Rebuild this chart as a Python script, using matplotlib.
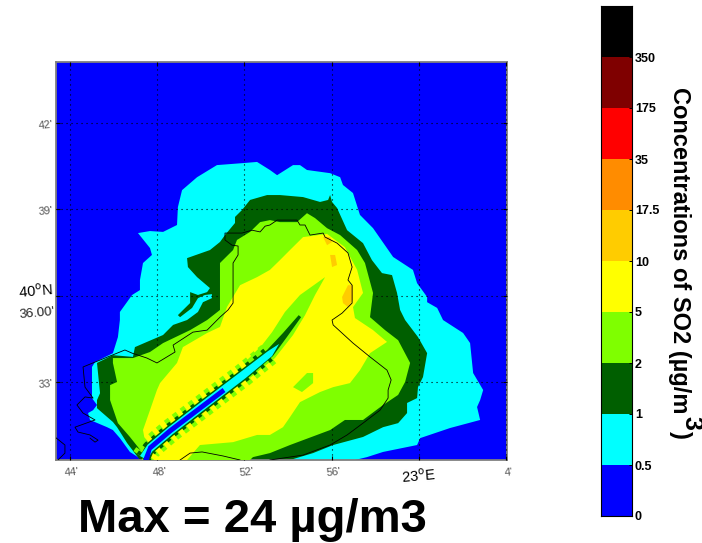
import numpy as np
import matplotlib
matplotlib.use("Agg")
import matplotlib.pyplot as plt

plt.rcParams['font.family'] = ['Liberation Sans', 'DejaVu Sans']

# colour scale
cbar_labels = ['0', '0.5', '1', '2', '5', '10', '17.5', '35', '175', '350']
cbar_colors = ['#0000ff', '#00ffff', '#005f00', '#7fff00', '#ffff00',
               '#ffcc00', '#ff8c00', '#ff0000', '#7f0000', '#000000']

# map graticule (minutes of lon past 22 deg, minutes of lat past 40 deg)
lon_ticks = [44, 48, 52, 56, 60, 64]
lon_labels = ["44'", "48'", "52'", "56'", "23$^{\\mathrm{o}}$E", "4'"]
lat_ticks = [33, 36, 39, 42]
lat_labels = ["33'", "40$^{\\mathrm{o}}$N", "39'", "42'"]

edge_05 = [(47.53,30.29),(47.12,30.39),(46.75,30.57),(46.29,31.05),(45.97,31.33),(45.70,31.43),
    (44.92,31.68),(44.83,31.92),(45.06,32.02),(45.24,32.20),(45.01,32.44),(45.01,33.52),
    (45.15,33.69),(45.97,34.00),(46.20,34.56),(46.29,35.15),(46.29,35.43),(46.85,36.02),
    (47.21,36.19),(47.21,36.54),(47.35,37.13),(47.76,37.41),(47.67,37.65),(47.12,38.17),
    (47.67,38.24),(48.27,38.21),(48.91,38.45),(48.95,39.07),(49.14,39.66),(49.83,40.11),
    (50.74,40.53),(51.94,40.60),(52.58,40.64),(53.17,40.36),(53.50,40.18),(54.23,40.53),
    (54.55,40.53),(54.87,40.36),(55.93,40.25),(56.39,40.11),(56.52,39.84),(56.98,39.56),
    (57.30,38.80),(57.90,38.34),(58.82,37.34),(59.73,36.89),(59.92,36.43),(60.38,35.95),
    (60.38,35.77),(60.84,35.57),(61.11,35.15),(62.03,34.70),(62.35,34.35),(62.49,33.31),
    (62.95,32.72),(62.81,32.37),(62.67,32.13),(62.81,31.68),(61.43,31.40),(60.06,31.05),
    (59.92,30.81),(58.36,30.57),(57.62,30.39),(57.07,30.29)]
edge_1 = [(47.21,30.29),(46.62,30.88),(46.16,31.43),(45.97,31.61),(45.24,32.09),(45.24,32.37),
    (45.38,32.61),(45.24,33.66),(45.97,33.93),(46.89,33.87),(46.98,34.21),(47.53,34.39),
    (48.27,34.63),(48.73,34.98),(49.37,35.15),(49.87,35.43),(50.10,35.77),(50.51,35.91),
    (50.51,36.05),(50.19,36.02),(49.87,35.91),(49.60,35.57),(49.05,35.25),(48.95,35.32),
    (49.51,35.74),(49.51,36.12),(49.87,36.02),(50.29,36.12),(50.42,36.26),(49.83,36.64),
    (49.41,36.99),(49.37,37.30),(50.42,37.58),(50.88,37.86),(51.11,38.10),(51.57,38.52),
    (51.57,38.73),(51.89,38.97),(52.26,39.32),(53.04,39.49),(53.63,39.49),(54.69,39.42),
    (55.47,39.25),(55.84,39.32),(55.93,39.49),(56.02,39.25),(56.25,39.04),(56.71,38.27),
    (57.44,37.82),(57.85,37.23),(58.31,36.78),(58.77,36.71),(59.00,36.09),(59.14,35.50),
    (59.37,35.15),(59.96,34.56),(60.38,34.00),(60.19,33.17),(59.96,32.82),(59.92,32.44),
    (59.46,32.27),(59.46,31.92),(59.05,31.57),(58.36,31.43),(57.44,31.09),(56.07,30.81),
    (55.15,30.53),(54.09,30.29)]
edge_2 = [(47.30,30.57),(46.75,31.09),(46.20,31.57),(45.84,32.37),(45.84,32.89),(46.16,33.00),
    (45.97,33.66),(45.97,33.83),(46.89,33.83),(47.67,34.04),(48.27,34.35),(49.51,34.80),
    (50.29,35.15),(50.88,35.50),(50.88,37.13),(51.48,37.58),(51.66,37.93),(52.26,38.21),
    (52.72,38.55),(53.17,38.62),(53.63,38.55),(54.41,38.55),(54.87,38.86),(55.24,38.69),
    (55.79,38.34),(56.39,38.10),(57.17,37.58),(57.53,37.13),(57.90,36.09),(57.76,35.25),
    (58.45,34.80),(59.05,34.45),(59.60,33.66),(59.37,33.00),(59.05,32.55),(58.36,32.20),
    (57.44,31.68),(56.61,31.68),(55.93,31.33),(54.09,30.81),(53.17,30.53),(52.39,30.39),
    (52.26,30.29),(47.30,30.29)]
edge_5 = [(47.67,30.29),(47.49,30.74),(47.35,31.33),(47.67,32.02),(47.99,32.72),(48.13,32.96),
    (48.91,33.66),(49.18,34.21),(50.29,34.70),(50.88,34.91),(51.20,35.60),(51.80,36.36),
    (52.58,36.64),(53.17,36.89),(53.63,37.23),(54.09,37.58),(54.69,38.03),(55.79,38.14),
    (56.61,37.68),(57.17,36.89),(57.44,36.09),(56.98,35.60),(57.07,35.22),(57.90,34.80),
    (58.54,34.39),(57.76,34.00),(57.30,33.41),(56.84,32.96),(56.07,32.82),(55.47,32.65),
    (54.55,32.30),(54.09,31.78),(53.77,31.43),(53.17,31.16),(52.58,31.16),(51.48,30.91),
    (49.96,30.81),(49.37,30.29)]
island_2 = [(54.23,32.82),(54.87,33.31),(55.15,33.31),(55.15,32.96),(54.64,32.65)]
patches_10 = [
    [(56.48,35.95),(56.75,36.36),(56.98,36.36),(56.98,35.84),(56.75,35.60),(56.52,35.74)],
    [(55.61,38.03),(55.93,38.03),(56.02,37.86),(55.79,37.75)],
    [(55.93,37.41),(56.16,37.41),(56.25,37.06),(56.02,36.99)]]

# narrow plume from the source, outermost to core
streak_lon = [47.35, 47.67, 48.59, 49.96, 51.94, 53.17]
streak_lat = [30.36, 30.70, 31.30, 32.09, 33.24, 34.00]
streak_2 = [(52.03,33.69),(52.81,34.28),(53.27,34.73),(53.86,35.43),(54.55,36.02),(55.70,36.64),
    (55.24,36.02),(54.78,35.32),(54.23,34.63),(53.40,33.83),(52.81,33.48),(52.26,33.14)]
streak_1 = [(47.17,30.36),(47.52,30.86),(48.44,31.45),(49.81,32.25),(51.79,33.39),(53.04,34.11),
    (53.77,34.70),(54.49,35.32),(54.60,35.25),(53.95,34.56),(53.31,33.90),(52.09,33.09),
    (50.12,31.94),(48.74,31.14),(47.82,30.55),(47.67,30.29)]
streak_05 = [(47.21,30.43),(47.56,30.82),(48.48,31.41),(49.85,32.21),(51.83,33.35),(53.08,34.07),
    (53.59,34.32),(53.27,33.90),(52.05,33.13),(50.07,31.98),(48.70,31.18),(47.78,30.59),
    (47.53,30.29)]
streak_0 = [(47.60,30.77),(48.52,31.37),(49.90,32.16),(51.00,32.79),(51.13,32.65),(50.03,32.02),
    (48.66,31.23),(47.74,30.64),(47.62,30.29),(47.35,30.29)]

# coastline pieces
coast_main = [(53.17,30.29),(54.69,30.46),(55.93,30.81),(56.71,31.16),(57.44,31.57),(58.22,32.02),
    (58.59,32.44),(58.59,32.72),(58.73,33.07),(58.54,33.41),(57.76,33.87),(56.98,34.35),
    (56.07,34.98),(56.02,35.15),(56.48,35.39),(56.94,35.74),(56.94,36.36),(56.75,36.54),
    (56.94,36.99),(56.75,37.48),(56.25,37.82),(55.70,38.03),(55.61,38.17),(55.01,38.10),
    (54.78,38.45),(54.55,38.45),(54.41,38.62),(53.50,38.62),(53.17,38.45),(52.95,38.41),
    (52.72,38.21),(52.35,38.27),(51.89,38.17),(51.11,38.17),(51.11,37.93),(51.43,37.75),
    (51.71,37.72),(51.71,37.41),(51.48,37.13),(51.48,35.74),(51.25,35.50),(50.88,35.25),
    (50.29,34.80),(49.64,34.73),(48.73,34.28),(48.82,34.04),(47.99,33.66),(47.53,33.83),
    (46.85,34.00),(46.52,34.11),(45.15,33.69),(44.60,33.52),(44.69,32.82),(45.06,32.44),
    (44.69,32.48),(44.32,32.20),(44.60,31.92),(45.15,31.68),(44.23,31.43),(44.37,31.26),
    (44.92,31.16),(45.29,30.98),(45.15,30.91),(44.92,31.05)]
coast_south = [(49.05,30.29),(49.51,30.53),(50.06,30.57),(51.02,30.43),(51.80,30.29)]
coast_west = [(43.31,31.09),(43.77,30.81),(43.77,30.53),(43.45,30.29)]


def fill_edge(ax, edge, color, z):
    pts = np.array(edge)
    ax.fill(pts[:, 0], pts[:, 1], color=color, lw=0, zorder=z)


W, H = 702, 543
fig = plt.figure(figsize=(W/100, H/100), dpi=100)

# map
ax = fig.add_axes([56/W, 1-460/H, 450.5/W, 398/H])
ax.set_facecolor(cbar_colors[0])
fill_edge(ax, edge_05, cbar_colors[1], 1)
fill_edge(ax, edge_1, cbar_colors[2], 2)
fill_edge(ax, edge_2, cbar_colors[3], 3)
fill_edge(ax, edge_5, cbar_colors[4], 4)
fill_edge(ax, island_2, cbar_colors[3], 5)
for p in patches_10:
    fill_edge(ax, p, cbar_colors[5], 5)
# the fringes along the plume are combs of short cells
ax.plot(streak_lon, streak_lat, color=cbar_colors[3], lw=17, zorder=6,
        linestyle=(0, (0.21, 0.21)), dash_capstyle='butt')
fill_edge(ax, streak_2, cbar_colors[3], 6)
ax.plot(streak_lon, streak_lat, color=cbar_colors[2], lw=11, zorder=7,
        linestyle=(0, (0.25, 0.4)), dash_capstyle='butt')
fill_edge(ax, streak_1, cbar_colors[2], 7)
fill_edge(ax, streak_05, cbar_colors[1], 8)
fill_edge(ax, streak_0, cbar_colors[0], 9)

for c in [coast_main, coast_south, coast_west]:
    pts = np.array(c)
    ax.plot(pts[:, 0], pts[:, 1], color='black', lw=0.6, zorder=10)

ax.set_xlim(43.36, 64.02)
ax.set_ylim(30.29, 44.11)
ax.set_xticks(lon_ticks)
ax.set_yticks(lat_ticks)
ax.tick_params(length=3, direction='in', top=True, right=True,
               labelbottom=False, labelleft=False)
ax.grid(True, color='black', linestyle=(0, (1, 3.5)), linewidth=0.8, zorder=11)
ax.set_axisbelow(False)
for s in ax.spines.values():
    s.set_color('#808080')
    s.set_linewidth(1.3)

for x, lab in zip(lon_ticks, lon_labels):
    big = 'E' in lab
    ax.text(x + (0 if big else 0.1), 29.72 if big else 29.85, lab, ha='center', va='center',
            rotation=5, fontsize=10.5 if big else 8,
            color='black' if big else '#555555', clip_on=False)
for y, lab in zip(lat_ticks, lat_labels):
    big = 'N' in lab
    ax.text(43.24, y + (0.16 if big else -0.08), lab, ha='right', va='center',
            rotation=5, fontsize=10.5 if big else 8,
            color='black' if big else '#555555', clip_on=False)
ax.text(43.31, 35.39, "36.00'", ha='right', va='center', rotation=5, fontsize=9.5,
        color='#222222', clip_on=False)

# colour bar
cax = fig.add_axes([601/W, 1-516/H, 31/W, 510/H])
cax.barh(np.arange(len(cbar_colors)) + 0.5, 1, height=1, color=cbar_colors)
cax.set_xlim(0, 1)
cax.set_ylim(0, len(cbar_colors))
cax.set_xticks([])
cax.set_yticks(np.arange(len(cbar_labels)))
cax.set_yticklabels(cbar_labels, fontsize=9, fontweight='bold')
cax.yaxis.tick_right()
cax.tick_params(axis='y', length=2, direction='in', pad=2, width=0.7)
for s in cax.spines.values():
    s.set_linewidth(0.8)

fig.text(680/W, 1-250/H, 'Concentrations of SO2 (\u00b5g/m', rotation=270,
         ha='center', va='center', fontsize=17, fontweight='bold')
fig.text(691/W, 1-423/H, '3', rotation=270, ha='center', va='center',
         fontsize=18, fontweight='bold')
fig.text(680/W, 1-435/H, ')', rotation=270, ha='center', va='center',
         fontsize=17, fontweight='bold')

fig.text(78/W, 1-532/H, 'Max = 24 \u00b5g/m3', ha='left', va='baseline',
         fontsize=34, fontweight='bold')

fig.savefig('out.png', dpi=100)
